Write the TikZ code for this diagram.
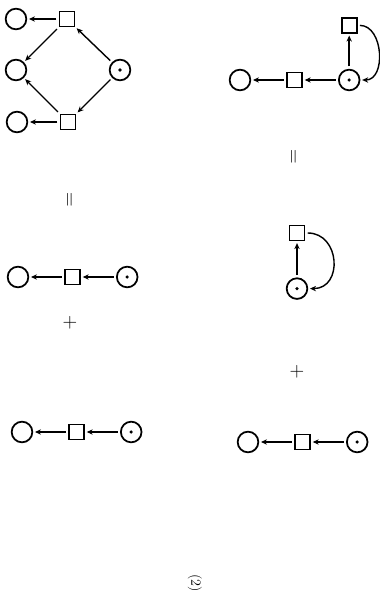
\documentclass[tikz,border=0pt]{standalone}
\usetikzlibrary{shapes.geometric, arrows.meta, positioning}
\tikzstyle{ring}    = [circle, draw=black, line width=1.5pt, minimum size=0.62cm, inner sep=0pt]
\tikzstyle{dotring} = [ring, path picture={\fill (path picture bounding box.center) circle (1.5pt);}]
\tikzstyle{box}     = [rectangle, draw=black, line width=1.5pt, minimum size=0.45cm, inner sep=0pt]
\tikzstyle{arrow}   = [-{Stealth[length=1.8mm, width=1.6mm]}, line width=1.2pt, shorten >=1.5pt, shorten <=2pt]
\tikzstyle{sign}    = [font=\LARGE, rotate=-90, inner sep=0pt]
\begin{document}
\begin{tikzpicture}[x=0.03cm, y=-0.03cm, node distance=1.05cm]
  \useasboundingbox (0,0) rectangle (379,599);

  % Left top: the whole graph
  \node (c1) [ring]    at (16,19)  {};
  \node (b1) [box]     at (67,19)  {};
  \node (c2) [ring]    at (16,70)  {};
  \node (d1) [dotring] at (120,70) {};
  \node (c3) [ring]    at (17,122) {};
  \node (b2) [box]     at (68,122) {};

  \draw [arrow] (b1) -- (c1);
  \draw [arrow] (b1) -- (c2);
  \draw [arrow] (d1) -- (b1);
  \draw [arrow] (d1) -- (b2);
  \draw [arrow] (b2) -- (c2);
  \draw [arrow] (b2) -- (c3);

  \node (eqL) [sign] at (68,200) {$=$};

  % Left: first term
  \node (c4) [ring] at (18,277) {};
  \node (b3) [box, right=of c4] {};
  \node (d2) [dotring, right=of b3] {};
  \draw [arrow] (d2) -- (b3);
  \draw [arrow] (b3) -- (c4);

  \node (plL) [sign] at (70,323) {$+$};

  % Left: second term
  \node (c5) [ring] at (22,432) {};
  \node (b4) [box, right=of c5] {};
  \node (d3) [dotring, right=of b4] {};
  \draw [arrow] (d3) -- (b4);
  \draw [arrow] (b4) -- (c5);

  % Right top: graph with loop
  \node (c6) [ring] at (240,80) {};
  \node (b5) [box, right=of c6] {};
  \node (d4) [dotring, right=of b5] {};
  \node (b6) [box, above=1.05cm of d4] {};
  \draw [arrow] (d4) -- (b5);
  \draw [arrow] (b5) -- (c6);
  \draw [arrow] (d4) -- (b6);
  \draw [arrow] (b6.east) .. controls +(26,0) and +(26,0) .. (d4.east);

  \node (eqR) [sign] at (292,157) {$=$};

  % Right: loop term
  \node (b7) [box] at (297,233) {};
  \node (d5) [dotring, below=1.08cm of b7] {};
  \draw [arrow] (d5) -- (b7);
  \draw [arrow] (b7.east) .. controls +(35,0) and +(35,0) .. (d5.east);

  \node (plR) [sign] at (297,372) {$+$};

  % Right: chain term
  \node (c7) [ring] at (248,442) {};
  \node (b8) [box, right=of c7] {};
  \node (d6) [dotring, right=of b8] {};
  \draw [arrow] (d6) -- (b8);
  \draw [arrow] (b8) -- (c7);

  \node (num) [rotate=-90, font=\large] at (195,583) {(2)};
\end{tikzpicture}
\end{document}
